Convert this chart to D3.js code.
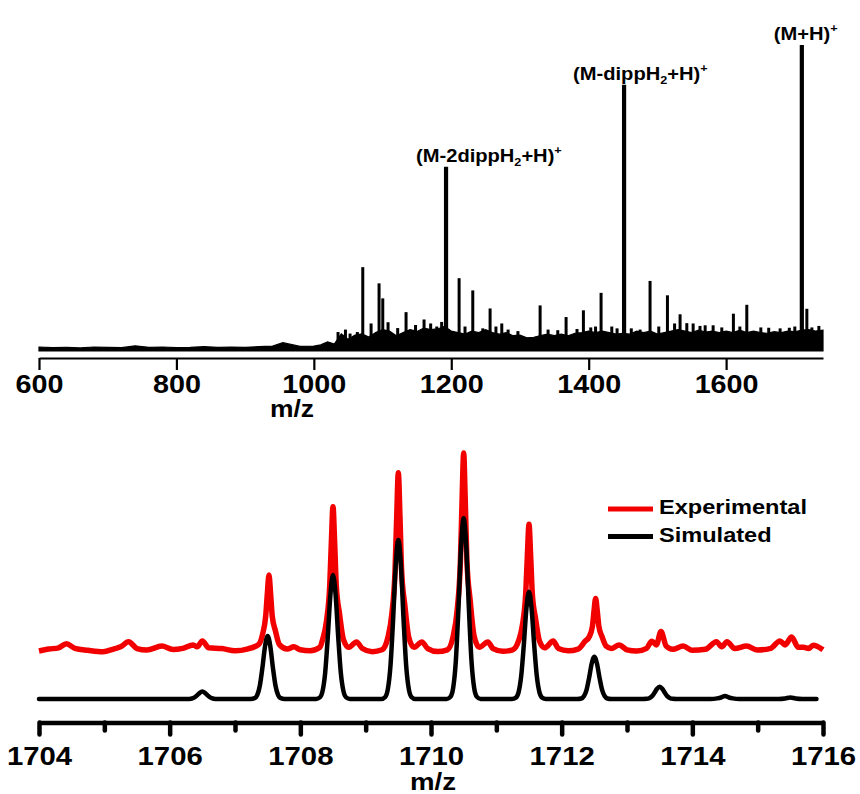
<!DOCTYPE html>
<html>
<head>
<meta charset="utf-8">
<script src="https://cdn.jsdelivr.net/npm/d3@7"></script>
<style>
  body { margin: 0; background: #fff; }
  text { font-family: "Liberation Sans", Arial, sans-serif; font-weight: bold; fill: #000; }
</style>
</head>
<body>
<svg id="chart" width="860" height="794"></svg>
<script>
// ---------- full spectrum (top) ----------
var fullTicks = [600, 800, 1000, 1200, 1400, 1600];

// [m/z, relative intensity]
var fullPeaks = [
    [1035.2, 6.2], [1046, 7.0], [1052.7, 5.7], [1063.3, 6.2], [1071.2, 27.4], [1083.3, 9.0],
    [1094.9, 22.1], [1100.3, 17.2], [1108, 9.4], [1122, 7.5], [1134.2, 12.7], [1148, 8.5],
    [1160.4, 10.3], [1170, 9.0], [1178.9, 8.0], [1186, 9.5], [1192.4, 60.2], [1211.4, 23.8],
    [1220, 8.0], [1231.3, 19.8], [1245.9, 7.4], [1256.5, 13.9], [1265, 8.0], [1273.5, 9.0],
    [1282.7, 7.0], [1297, 6.5], [1329.3, 14.9], [1340.9, 7.0], [1355, 6.8], [1367.1, 11.1],
    [1383, 7.2], [1392.3, 13.3], [1403, 7.7], [1410, 8.0], [1418, 19.0], [1433.6, 8.0],
    [1441.3, 7.4], [1451.5, 87.0], [1462, 7.4], [1474.8, 7.0], [1489.3, 22.9], [1502, 8.0],
    [1514.6, 18.2], [1525, 9.0], [1533, 12.0], [1542.8, 9.1], [1552, 9.0], [1562, 8.2],
    [1569.5, 8.4], [1581.1, 8.4], [1593.7, 7.7], [1610.6, 12.2], [1620, 8.0], [1630.1, 15.1],
    [1650.5, 7.7], [1662, 7.6], [1678.6, 7.4], [1692, 7.6], [1700, 8.0], [1710.2, 100],
    [1717.5, 13.8], [1724.8, 7.7], [1735, 8.2]
];

// upper edge of the noise floor
var fullNoise = [
    [600, 1.3], [620, 1.1], [640, 1.2], [660, 1.0], [680, 1.3], [700, 1.2], [720, 1.1],
    [740, 1.7], [760, 1.2], [780, 1.3], [800, 1.1], [820, 1.2], [840, 1.4], [860, 1.2],
    [880, 1.3], [900, 1.2], [920, 1.4], [940, 1.6], [955, 2.7], [980, 1.5], [1000, 1.6],
    [1010, 2.0], [1020, 3.0], [1030, 2.3], [1040, 5.6], [1050, 3.8], [1060, 5.2],
    [1070, 5.6], [1080, 4.6], [1090, 6.0], [1100, 7.0], [1110, 6.5], [1120, 5.0],
    [1130, 6.0], [1140, 7.0], [1150, 6.4], [1160, 7.5], [1170, 7.0], [1180, 7.2],
    [1190, 8.0], [1200, 6.5], [1210, 6.0], [1220, 5.5], [1230, 6.5], [1240, 6.0],
    [1250, 7.0], [1260, 6.0], [1270, 5.5], [1280, 6.0], [1290, 5.0], [1300, 5.2],
    [1310, 4.3], [1320, 4.5], [1330, 5.0], [1340, 5.5], [1350, 5.0], [1360, 5.5],
    [1370, 5.0], [1380, 5.8], [1390, 6.0], [1400, 6.5], [1410, 6.0], [1420, 6.5],
    [1430, 6.0], [1440, 5.5], [1450, 5.8], [1460, 5.5], [1470, 6.5], [1480, 6.0],
    [1490, 6.5], [1500, 5.5], [1510, 6.0], [1520, 6.5], [1530, 7.0], [1540, 6.5],
    [1550, 6.0], [1560, 6.8], [1570, 6.2], [1580, 6.5], [1590, 6.0], [1600, 6.5],
    [1610, 6.0], [1620, 6.8], [1630, 6.0], [1640, 6.5], [1650, 6.0], [1660, 5.8],
    [1670, 6.3], [1680, 6.0], [1690, 6.5], [1700, 6.3], [1710, 6.8], [1720, 7.0],
    [1730, 6.5], [1741, 6.8]
];

var labelMz = [1192.4, 1451.5, 1710.2];
var labelParts = [
    [["(M-2dippH", ""], ["2", "sub"], ["+H)", ""], ["+", "sup"]],
    [["(M-dippH", ""], ["2", "sub"], ["+H)", ""], ["+", "sup"]],
    [["(M+H)", ""], ["+", "sup"]]
];

// ---------- isotope pattern (bottom) ----------
var isoTicks = [1704, 1706, 1708, 1710, 1712, 1714, 1716];
var isoMinor = [1705, 1707, 1709, 1711, 1713, 1715];

var expPoints = [
    [1704.0, 19.5], [1704.15, 20.3], [1704.3, 20.8], [1704.42, 22.5], [1704.55, 20.6],
    [1704.75, 19.8], [1704.98, 19.2], [1705.15, 20.4], [1705.25, 21.2], [1705.37, 23.3],
    [1705.5, 20.5], [1705.65, 19.9], [1705.88, 21.5], [1706.05, 20.1], [1706.2, 20.6],
    [1706.36, 22.0], [1706.42, 21.2], [1706.5, 23.6], [1706.6, 20.8], [1706.8, 20.5],
    [1707.0, 19.6], [1707.2, 20.4], [1707.36, 22.1], [1707.42, 26.1], [1707.47, 33.7],
    [1707.495, 42.8], [1707.52, 50.4], [1707.545, 42.8], [1707.57, 33.7], [1707.62, 27.6],
    [1707.68, 22.1], [1707.8, 20.3], [1707.9, 21.2], [1708.0, 20.0], [1708.15, 19.6],
    [1708.3, 21.0], [1708.34, 24.1], [1708.4, 31.6], [1708.45, 46.2], [1708.475, 63.7],
    [1708.5, 78.2], [1708.525, 63.7], [1708.55, 46.2], [1708.6, 34.6], [1708.66, 24.1],
    [1708.74, 21.0], [1708.86, 23.2], [1708.95, 20.5], [1709.1, 19.2], [1709.25, 20.0],
    [1709.34, 25.0], [1709.4, 34.4], [1709.45, 52.4], [1709.475, 74], [1709.5, 92],
    [1709.525, 74], [1709.55, 52.4], [1709.6, 38], [1709.66, 25.0], [1709.74, 21.0],
    [1709.86, 23.2], [1709.95, 20.5], [1710.1, 19.3], [1710.25, 20.0], [1710.34, 25.6],
    [1710.4, 36], [1710.45, 56], [1710.475, 80], [1710.5, 100], [1710.525, 80],
    [1710.55, 56], [1710.6, 40], [1710.66, 25.6], [1710.74, 21.0], [1710.87, 23.2],
    [1710.95, 20.5], [1711.1, 19.4], [1711.25, 20.0], [1711.34, 23.6], [1711.4, 30.2],
    [1711.45, 43], [1711.475, 58.3], [1711.5, 71], [1711.525, 58.3], [1711.55, 43],
    [1711.6, 32.8], [1711.66, 23.6], [1711.74, 20.8], [1711.87, 23.6], [1711.95, 20.5],
    [1712.1, 19.6], [1712.25, 20.3], [1712.36, 23.5], [1712.42, 25.2], [1712.47, 29.4],
    [1712.495, 35.7], [1712.52, 40.9], [1712.545, 35.7], [1712.57, 29.4], [1712.62, 25.2],
    [1712.68, 21.5], [1712.76, 20.5], [1712.88, 22.0], [1713.0, 20.0], [1713.15, 19.5],
    [1713.3, 20.6], [1713.38, 23.5], [1713.45, 22], [1713.52, 27.4], [1713.6, 21.5],
    [1713.7, 20.2], [1713.86, 21.5], [1714.0, 19.8], [1714.2, 20.2], [1714.37, 23.3],
    [1714.45, 21.2], [1714.53, 23.3], [1714.65, 20.5], [1714.83, 21.5], [1715.0, 19.9],
    [1715.2, 20.6], [1715.34, 23.6], [1715.42, 22], [1715.52, 25.2], [1715.62, 21],
    [1715.7, 21.0], [1715.78, 20.5], [1715.85, 21.9], [1716.0, 20.0]
];

var simPoints = [
    [1704.0, 0],
    [1706.24, 0], [1706.3, 0.04], [1706.34, 0.19], [1706.38, 0.63], [1706.42, 1.5], [1706.46, 2.52],
    [1706.5, 3.0], [1706.54, 2.52], [1706.58, 1.5], [1706.62, 0.63], [1706.66, 0.19], [1706.7, 0.04], [1706.76, 0],
    [1707.24, 0], [1707.3, 0.33], [1707.34, 1.6], [1707.38, 5.4], [1707.42, 12.8], [1707.46, 21.5],
    [1707.5, 25.6], [1707.54, 21.5], [1707.58, 12.8], [1707.62, 5.4], [1707.66, 1.6], [1707.7, 0.33], [1707.76, 0],
    [1708.24, 0], [1708.3, 0.66], [1708.34, 3.2], [1708.38, 10.6], [1708.42, 25.2], [1708.46, 42.3],
    [1708.5, 50.4], [1708.54, 42.3], [1708.58, 25.2], [1708.62, 10.6], [1708.66, 3.2], [1708.7, 0.66], [1708.76, 0],
    [1709.24, 0], [1709.3, 0.84], [1709.34, 4.1], [1709.38, 13.6], [1709.42, 32.3], [1709.46, 54.3],
    [1709.5, 64.6], [1709.54, 54.3], [1709.58, 32.3], [1709.62, 13.6], [1709.66, 4.1], [1709.7, 0.84], [1709.76, 0],
    [1710.24, 0], [1710.3, 0.96], [1710.34, 4.6], [1710.38, 15.4], [1710.42, 36.8], [1710.46, 61.7],
    [1710.5, 73.5], [1710.54, 61.7], [1710.58, 36.8], [1710.62, 15.4], [1710.66, 4.6], [1710.7, 0.96], [1710.76, 0],
    [1711.24, 0], [1711.3, 0.57], [1711.34, 2.7], [1711.38, 9.2], [1711.42, 21.8], [1711.46, 36.6],
    [1711.5, 43.6], [1711.54, 36.6], [1711.58, 21.8], [1711.62, 9.2], [1711.66, 2.7], [1711.7, 0.57], [1711.76, 0],
    [1712.24, 0], [1712.3, 0.22], [1712.34, 1.1], [1712.38, 3.6], [1712.42, 8.6], [1712.46, 14.4],
    [1712.5, 17.2], [1712.54, 14.4], [1712.58, 8.6], [1712.62, 3.6], [1712.66, 1.1], [1712.7, 0.22], [1712.76, 0],
    [1713.24, 0], [1713.3, 0.07], [1713.34, 0.3], [1713.38, 1.05], [1713.42, 2.5], [1713.46, 4.2],
    [1713.5, 5.0], [1713.54, 4.2], [1713.58, 2.5], [1713.62, 1.05], [1713.66, 0.3], [1713.7, 0.07], [1713.76, 0],
    [1714.28, 0], [1714.38, 0.25], [1714.44, 0.6], [1714.5, 1.2], [1714.56, 0.6], [1714.62, 0.25], [1714.72, 0],
    [1715.32, 0], [1715.42, 0.2], [1715.5, 0.6], [1715.58, 0.2], [1715.68, 0],
    [1715.9, 0]
];

var legendNames = ["Experimental", "Simulated"];
var legendColors = ["#f20000", "#000000"];

var svg = d3.select("#chart");
var stretch = "scale(1.15,1)";

// ================= top panel =================
var x1 = d3.scaleLinear().domain([600, 1741]).range([39, 823]);
var y1 = d3.scaleLinear().domain([0, 100]).range([351, 45]);

var topG = svg.append("g");

topG.append("path")
    .datum(fullNoise)
    .attr("fill", "#000")
    .attr("stroke", "#000")
    .attr("stroke-width", 1.2)
    .attr("stroke-linejoin", "miter")
    .attr("d", d3.area()
        .x(function(d) { return x1(d[0]); })
        .y0(y1(0))
        .y1(function(d) { return y1(d[1]); }));

topG.selectAll(".peak")
    .data(fullPeaks)
    .enter().append("line")
    .attr("class", "peak")
    .attr("x1", function(d) { return x1(d[0]); })
    .attr("x2", function(d) { return x1(d[0]); })
    .attr("y1", y1(0))
    .attr("y2", function(d) { return y1(d[1]); })
    .attr("stroke", "#000")
    .attr("stroke-width", function(d) { return d[1] > 50 ? 4.2 : 3; });

var labelDx = [-30, -51, -28];
labelMz.forEach(function(mz, i) {
    var pk = fullPeaks.filter(function(p) { return p[0] == mz; })[0];
    var t = topG.append("text")
        .attr("transform", "translate(" + (x1(mz) + labelDx[i]) + "," + (y1(pk[1]) - 5) + ") " + stretch)
        .style("font-size", "17.5px");
    var shift = 0;
    labelParts[i].forEach(function(p) {
        var dy = 0, fs = null;
        if (p[1] == "sub") { dy = 4 - shift; fs = "11px"; shift = 4; }
        else if (p[1] == "sup") { dy = -8 - shift; fs = "11px"; shift = -8; }
        else { dy = -shift; shift = 0; }
        var ts = t.append("tspan").attr("dy", dy).text(p[0]);
        if (fs) ts.style("font-size", fs);
    });
});

var axTop = topG.append("g")
    .attr("transform", "translate(0,358)")
    .call(d3.axisBottom(x1).tickValues(fullTicks).tickSize(12).tickSizeOuter(0).tickPadding(5)
        .tickFormat(d3.format("d")));
axTop.select(".domain").attr("stroke-width", 2.2);
axTop.selectAll(".tick line").attr("stroke-width", 2.2);
axTop.selectAll(".tick text")
    .attr("transform", stretch)
    .style("font-size", "25px")
    .style("font-family", "'Liberation Sans', Arial, sans-serif")
    .style("font-weight", "bold");

topG.append("text")
    .attr("transform", "translate(292,417) " + stretch)
    .attr("text-anchor", "middle")
    .style("font-size", "23px")
    .text("m/z");

// ================= bottom panel =================
var x2 = d3.scaleLinear().domain([1704, 1716]).range([39, 823]);
var y2 = d3.scaleLinear().domain([0, 100]).range([699, 453]);

var botG = svg.append("g");

var line2 = d3.line()
    .x(function(d) { return x2(d[0]); })
    .y(function(d) { return y2(d[1]); })
    .curve(d3.curveMonotoneX);

botG.append("path")
    .datum(expPoints)
    .attr("fill", "none")
    .attr("stroke", legendColors[0])
    .attr("stroke-width", 5.5)
    .attr("stroke-linejoin", "round")
    .attr("d", line2);

botG.append("path")
    .datum(simPoints)
    .attr("fill", "none")
    .attr("stroke", legendColors[1])
    .attr("stroke-width", 4.5)
    .attr("stroke-linejoin", "round")
    .attr("stroke-linecap", "round")
    .attr("d", line2);

var axMinor = botG.append("g")
    .attr("transform", "translate(0,722.5)")
    .call(d3.axisBottom(x2).tickValues(isoMinor).tickSize(8).tickSizeOuter(0).tickFormat(""));
axMinor.select(".domain").remove();
axMinor.selectAll(".tick line").attr("stroke-width", 4.5).attr("stroke-linecap", "round");

var axBot = botG.append("g")
    .attr("transform", "translate(0,722.5)")
    .call(d3.axisBottom(x2).tickValues(isoTicks).tickSize(12).tickSizeOuter(0).tickPadding(12)
        .tickFormat(d3.format("d")));
axBot.select(".domain").attr("stroke-width", 4.5);
axBot.selectAll(".tick line").attr("stroke-width", 4.5).attr("stroke-linecap", "round");
axBot.selectAll(".tick text")
    .attr("transform", stretch)
    .style("font-size", "25.5px")
    .style("font-family", "'Liberation Sans', Arial, sans-serif")
    .style("font-weight", "bold");

botG.append("text")
    .attr("transform", "translate(433,790) " + stretch)
    .attr("text-anchor", "middle")
    .style("font-size", "24px")
    .text("m/z");

// legend
var leg = botG.selectAll(".legend")
    .data(legendNames)
    .enter().append("g")
    .attr("class", "legend")
    .attr("transform", function(d, i) { return "translate(608," + (509 + i * 27.5) + ")"; });

leg.append("line")
    .attr("x1", 0).attr("x2", 45)
    .attr("stroke", function(d, i) { return legendColors[i]; })
    .attr("stroke-width", 5);

leg.append("text")
    .attr("transform", "translate(51,5) " + stretch)
    .style("font-size", "20.5px")
    .text(function(d) { return d; });
</script>
</body>
</html>
